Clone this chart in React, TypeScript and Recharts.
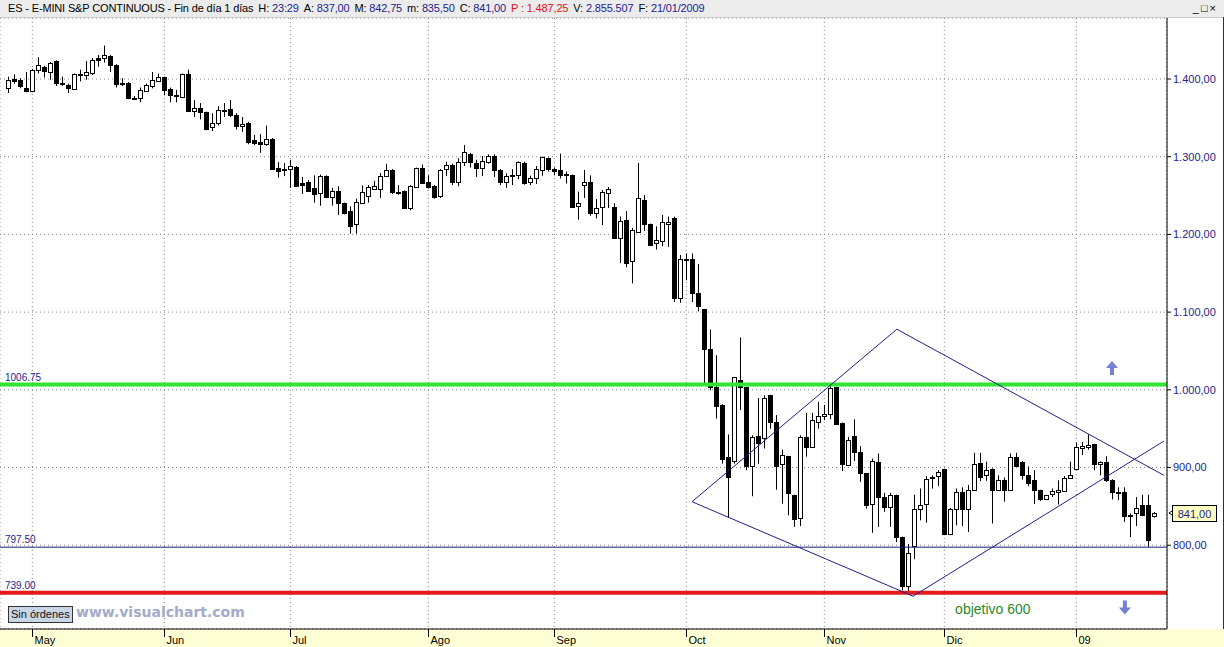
import React from 'react';
import { ComposedChart, Bar, XAxis, YAxis, CartesianGrid, ReferenceLine, ReferenceDot } from 'recharts';

const NAVY = '#23238c';
const FONT = '"Liberation Sans", Arial, sans-serif';

const monthTicks = [4, 26, 47, 70, 91, 113, 136, 156, 178];
const monthLabels = ['May', 'Jun', 'Jul', 'Ago', 'Sep', 'Oct', 'Nov', 'Dic', '09'];
const priceTicks = [800, 900, 1000, 1100, 1200, 1300, 1400];

// velas diarias ES, finales de abril 2008 -> 21/01/2009
const opens = [
  1388, 1400, 1399, 1389, 1384, 1412, 1415, 1409, 1423, 1395, 1392, 1387, 1407, 1405, 1408, 1427, 1427, 1430, 1418, 1395,
  1395, 1376, 1375, 1385, 1391, 1398, 1402, 1387, 1379.5, 1377, 1407, 1359, 1363, 1357, 1338, 1344, 1360.5, 1361, 1354, 1339,
  1344, 1321, 1319, 1316, 1323, 1286, 1284, 1284, 1287, 1266, 1267, 1260, 1253, 1275, 1248.5, 1256, 1240, 1230, 1213, 1240,
  1250, 1259, 1258, 1275.5, 1283, 1254.5, 1256, 1233.5, 1261, 1285, 1267, 1262, 1250, 1284, 1289, 1268, 1293, 1304, 1292, 1285,
  1293.5, 1301, 1283, 1268, 1276.5, 1276, 1292, 1267, 1272, 1283, 1298, 1284, 1283, 1277.5, 1276.5, 1237, 1264, 1267, 1228, 1235,
  1253, 1235, 1196, 1218.5, 1166, 1203.5, 1244, 1213, 1188.5, 1192, 1213, 1221.5, 1118.5, 1168, 1168, 1125, 1103.5, 1053, 1003, 981,
  913, 908.5, 1012.5, 1003, 902, 940.5, 937.5, 993, 958, 904, 914.5, 864.5, 835.5, 939.5, 926.5, 959, 966, 968.5, 1003, 957.5,
  903, 940.5, 920, 892.5, 853.5, 906.5, 861.5, 849.5, 864.5, 810.5, 747.5, 799, 846, 852.5, 886, 889, 898, 815, 847, 868,
  847, 871.5, 906, 890, 898.5, 871, 883.5, 871.5, 913, 907.5, 890, 883.5, 871, 859, 865.5, 868.5, 869.5, 887, 898.5, 924.5,
  926.5, 930, 904, 906.5, 884.5, 868, 868, 838, 841, 851.5, 851.5, 837,
];
const highs = [
  1403, 1406, 1401, 1409, 1413, 1428, 1417, 1422, 1424, 1403, 1394, 1407, 1412, 1423, 1427, 1431, 1443, 1431, 1419, 1401,
  1396, 1378, 1389, 1394, 1409, 1407, 1403, 1389, 1386, 1407, 1412, 1373, 1369, 1358, 1356, 1365, 1369, 1373, 1356, 1351,
  1345, 1328, 1329, 1340, 1324, 1293, 1292, 1296, 1288, 1274, 1270, 1276, 1277, 1276, 1260, 1262, 1241, 1236, 1246, 1263,
  1263.5, 1269, 1279, 1291, 1284, 1263.5, 1256.5, 1263.5, 1286, 1290, 1276, 1263.5, 1284, 1293.5, 1291, 1298, 1315, 1305, 1296, 1301,
  1303, 1303, 1284, 1278.5, 1284, 1294, 1293.5, 1275.5, 1288, 1300, 1299, 1286, 1304, 1281, 1277, 1255, 1283, 1276, 1245.5, 1257,
  1261, 1240, 1223, 1230, 1208.5, 1292, 1250.5, 1214, 1210.5, 1225, 1223, 1223, 1173.5, 1175.5, 1175.5, 1162, 1104, 1077.5, 1044.5, 981.5,
  942.5, 1016.5, 1067.5, 1003.5, 941.5, 989.5, 993, 993.5, 967.5, 923, 915, 865, 941.5, 970.5, 970.5, 984.5, 980.5, 1006, 1003.5, 958,
  939.5, 962, 927.5, 893, 911.5, 918, 867.5, 867.5, 865, 811, 801.5, 865, 873, 889, 890, 896.5, 898.5, 848, 873, 874.5,
  877.5, 919, 919, 907.5, 899, 890, 887, 918, 919, 908.5, 901.5, 896.5, 871.5, 865, 873, 883.5, 889, 907.5, 932, 933,
  942.5, 930.5, 908, 914.5, 885, 874.5, 874.5, 841, 862, 865, 865, 842.75,
];
const lows = [
  1382, 1394, 1388, 1383, 1383, 1407, 1402, 1399, 1391, 1391, 1382, 1386, 1397, 1399, 1405, 1416, 1421, 1409, 1389, 1391,
  1374, 1374, 1370, 1384, 1388, 1396, 1379, 1370, 1370, 1376, 1358, 1351, 1348, 1334, 1333, 1340, 1351, 1351, 1335, 1332,
  1316, 1315, 1305, 1314, 1283, 1273, 1275, 1260, 1261, 1252, 1255, 1241, 1237, 1247, 1237, 1225, 1226, 1201, 1201, 1239,
  1241, 1258, 1247, 1274, 1252, 1251, 1233, 1231, 1260, 1265, 1259, 1246, 1247, 1275, 1263.5, 1262, 1288, 1286, 1274, 1275,
  1291, 1274, 1263.5, 1260, 1263.5, 1271, 1264, 1263.5, 1265, 1275.5, 1281, 1276, 1272, 1265.5, 1234.5, 1219, 1247, 1224, 1220.5, 1212,
  1234, 1195, 1163, 1157.5, 1137, 1203, 1204.5, 1185, 1180.5, 1185, 1184, 1113, 1112, 1141, 1113, 1101, 1008, 999.5, 963, 905,
  835.5, 905, 974, 896.5, 863, 905, 924.5, 950, 871.5, 853.5, 838.5, 823.5, 824.5, 914, 925.5, 950, 961, 962, 955.5, 895.5,
  902, 908.5, 881.5, 847, 816, 823.5, 843, 823.5, 804, 742, 737, 782, 832, 829, 873, 876, 813, 813, 825.5, 824.5,
  817, 870, 882.5, 883, 828, 870, 856, 870, 901, 884.5, 876, 853, 857, 858, 862, 852.5, 868.5, 886, 896.5, 916,
  923, 896.5, 890, 881.5, 859, 858, 830, 810.5, 824.5, 838.5, 798, 835.5,
];
const closes = [
  1399, 1398, 1391, 1384, 1412, 1418, 1410, 1421, 1395, 1393, 1389, 1406, 1405, 1409, 1425, 1425, 1431, 1418, 1393, 1394,
  1375, 1375, 1386, 1392, 1399, 1402, 1386, 1379, 1379, 1406, 1359, 1363, 1357, 1336, 1343, 1360, 1360, 1354, 1339, 1342,
  1319, 1318, 1316, 1323, 1284, 1281, 1283.5, 1288, 1262, 1264, 1256, 1251.5, 1275, 1248.5, 1256, 1240, 1228, 1211, 1242, 1254,
  1261, 1262, 1275, 1283, 1254, 1254, 1234, 1262, 1285, 1266.5, 1260.5, 1248.5, 1283, 1289, 1268, 1293, 1305.5, 1293, 1285, 1294,
  1301, 1283, 1268, 1275, 1275, 1293, 1266.5, 1272, 1284, 1299, 1284, 1282, 1277, 1276, 1235.5, 1241, 1267, 1227, 1233.5, 1254,
  1259, 1196, 1217, 1163.5, 1205.5, 1247.5, 1214, 1186, 1192.5, 1216, 1216.5, 1118.5, 1168, 1167, 1125, 1108, 1053, 1004, 979, 911.5,
  888, 1016, 1003, 902, 939.5, 932, 990, 959, 902, 916, 867.5, 833.5, 939.5, 926.5, 961, 966, 969.5, 1002, 956.5, 904,
  936, 920, 892.5, 851.5, 908, 861.5, 849.5, 865, 810.5, 747.5, 790.5, 846.5, 851.5, 885.5, 888, 894.5, 814, 847, 868, 847,
  871, 904, 888, 896.5, 871, 884.5, 871.5, 913, 902, 890, 880.5, 871, 859, 864.5, 869.5, 871.5, 887, 891, 926, 927.5,
  929.5, 904, 906.5, 883.5, 868, 867.5, 838, 839, 848.5, 839.5, 806.5, 841,
];

const bars = opens.map((o, i) => ({ i, open: o, high: highs[i], low: lows[i], close: closes[i] }));

// niveles horizontales marcados en el gráfico
const levels = [
  { price: 1006.75, label: '1006.75', color: '#2fe52f', width: 4 },
  { price: 797.5, label: '797.50', color: '#1c1c80', width: 1 },
  { price: 739, label: '739.00', color: '#e41b1b', width: 4 },
];

// rombo dibujado a mano: [índice de barra, precio]
const trendSegments = [
  [[113.95, 856], [148.1, 1078]],
  [[113.95, 856], [150.8, 734.4]],
  [[148.1, 1078], [192.6, 890]],
  [[150.8, 734.4], [192.6, 934]],
];

const lastPrice = 841;

function fmt(v: number) {
  const [int, dec] = v.toFixed(2).split('.');
  return int.replace(/\B(?=(\d{3})+(?!\d))/g, '.') + ',' + dec;
}

function Candle(props: any) {
  const { x, y, width, height, payload } = props;
  const { open, close, high, low } = payload;
  const cx = Math.round(x + width / 2) + 0.5;
  const py = (v: number) => y + ((high - v) / (high - low)) * height;
  const top = Math.round(py(Math.max(open, close)));
  const bot = Math.round(py(Math.min(open, close)));
  const up = close >= open;
  return (
    <g>
      <line x1={cx} x2={cx} y1={y} y2={y + height} stroke="#000" />
      <rect x={cx - 2} y={top + 0.5} width={4} height={Math.max(bot - top, 1)} fill={up ? '#fff' : '#000'} stroke="#000" />
    </g>
  );
}

function MonthTick(props: any) {
  const { x, y, payload } = props;
  const idx = monthTicks.indexOf(payload.value);
  const px = Math.round(x) + 0.5;
  return (
    <g>
      <line x1={px} x2={px} y1={y} y2={y + 8} stroke="#000" />
      <text x={px + 2} y={y + 15} fontSize={11} fontFamily={FONT} fill="#000">{monthLabels[idx]}</text>
    </g>
  );
}

function LevelLabel(props: any) {
  const { viewBox, text } = props;
  return (
    <text x={viewBox.x + 5} y={viewBox.y - 4} fontSize={10} fontFamily={FONT} fill={NAVY}>{text}</text>
  );
}

function PriceTag(props: any) {
  const { viewBox } = props;
  const y = Math.round(viewBox.y);
  const x0 = viewBox.x + viewBox.width;
  return (
    <g>
      <polyline points={`${x0 + 5},${y - 2} ${x0 + 2},${y} ${x0 + 5},${y + 2}`} fill="none" stroke="#000" />
      <rect x={x0 + 5.5} y={y - 7.5} width={44} height={16} fill="#ffffc4" stroke="#000" />
      <text x={x0 + 27.5} y={y + 4.5} textAnchor="middle" fontSize={11} fontFamily={FONT} fill={NAVY}>{fmt(lastPrice)}</text>
    </g>
  );
}

function Arrow(props: any) {
  const { cx, cy, dir } = props;
  const c = '#7480d6';
  if (dir === 'up') {
    return <path d={`M${cx - 6},${cy} L${cx},${cy - 7} L${cx + 6},${cy} L${cx + 2},${cy} L${cx + 2},${cy + 7} L${cx - 2},${cy + 7} L${cx - 2},${cy} Z`} fill={c} />;
  }
  return <path d={`M${cx - 6},${cy} L${cx},${cy + 7} L${cx + 6},${cy} L${cx + 2},${cy} L${cx + 2},${cy - 7} L${cx - 2},${cy - 7} L${cx - 2},${cy} Z`} fill={c} />;
}

function Note(props: any) {
  const { cx, cy } = props;
  return <text x={cx} y={cy + 5} fontSize={14} fontFamily={FONT} fill="#2a8a2a">objetivo 600</text>;
}

const hdr = (k: string, v: string, color = NAVY) => (
  <span style={{ marginRight: 5 }}>
    <span style={{ color: '#000' }}>{k}</span> <span style={{ color }}>{v}</span>
  </span>
);

export default function App() {
  return (
    <div style={{ position: 'absolute', left: 0, top: 0, width: 1224, height: 647, background: '#fff', overflow: 'hidden', fontFamily: FONT }}>
      <div style={{ position: 'absolute', left: 0, top: 629, width: 1224, height: 18, background: '#ffffd6' }} />
      <ComposedChart width={1224} height={647} data={bars} margin={{ top: 18, right: 0, bottom: 0, left: 0 }} style={{ position: 'absolute', left: 0, top: 0 }}>
        <CartesianGrid stroke="#808080" strokeDasharray="1 3" />
        <XAxis
          type="number"
          dataKey="i"
          domain={[-1.383, 193.117]}
          ticks={monthTicks}
          interval={0}
          height={18}
          allowDataOverflow
          axisLine={{ stroke: '#000' }}
          tickLine={false}
          tickSize={0}
          tickMargin={0}
          tick={<MonthTick />}
        />
        <YAxis
          orientation="right"
          domain={[692.2, 1478.5]}
          ticks={priceTicks}
          interval={0}
          width={57}
          allowDataOverflow
          axisLine={{ stroke: '#000' }}
          tickLine={{ stroke: '#000' }}
          tickSize={4}
          tick={{ fill: NAVY, fontSize: 11, fontFamily: FONT }}
          tickFormatter={fmt}
        />
        <Bar dataKey={(d: any) => [d.low, d.high]} barSize={5} isAnimationActive={false} shape={(p: any) => <Candle {...p} />} />
        {levels.map((lv) => (
          <ReferenceLine key={lv.label} y={lv.price} stroke={lv.color} strokeWidth={lv.width} label={<LevelLabel text={lv.label} />} />
        ))}
        {trendSegments.map((s, k) => (
          <ReferenceLine key={k} segment={[{ x: s[0][0], y: s[0][1] }, { x: s[1][0], y: s[1][1] }]} stroke="#1f1f8c" strokeWidth={1} />
        ))}
        <ReferenceLine y={lastPrice} stroke="none" label={<PriceTag />} />
        <ReferenceDot x={183.95} y={1028} r={0} shape={(p: any) => <Arrow {...p} dir="up" />} />
        <ReferenceDot x={186.1} y={719.8} r={0} shape={(p: any) => <Arrow {...p} dir="down" />} />
        <ReferenceDot x={157.8} y={717.9} r={0} shape={(p: any) => <Note {...p} />} />
      </ComposedChart>

      <div style={{ position: 'absolute', left: 0, top: 0, width: 1224, height: 17, background: '#ececec', borderBottom: '1px solid #c8c8c8', fontSize: 11, letterSpacing: -0.15, lineHeight: '17px', whiteSpace: 'nowrap', color: '#000' }}>
        <span style={{ marginLeft: 8, marginRight: 5 }}>ES - E-MINI S&amp;P CONTINUOUS - Fin de día 1 días</span>
        {hdr('H:', '23:29')}
        {hdr('A:', '837,00')}
        {hdr('M:', '842,75')}
        {hdr('m:', '835,50')}
        {hdr('C:', '841,00')}
        <span style={{ color: '#e01010', marginRight: 5 }}>P : 1.487,25</span>
        {hdr('V:', '2.855.507')}
        {hdr('F:', '21/01/2009')}
        <span style={{ position: 'absolute', right: 6, top: 0, fontSize: 11, color: '#000', letterSpacing: 2 }}>_□×</span>
      </div>
      <div style={{ position: 'absolute', right: 0, top: 17, width: 1, height: 612, background: '#333' }} />
      <div style={{ position: 'absolute', left: 8, top: 606, height: 15, padding: '0 2px', background: '#c9d6e6', border: '1px solid #333', fontSize: 11, lineHeight: '15px', color: '#111' }}>Sin órdenes</div>
      <div style={{ position: 'absolute', left: 76, top: 604, fontSize: 14, fontWeight: 'bold', fontFamily: '"DejaVu Sans", Verdana, sans-serif', color: '#a3abcc' }}>www.visualchart.com</div>
    </div>
  );
}
